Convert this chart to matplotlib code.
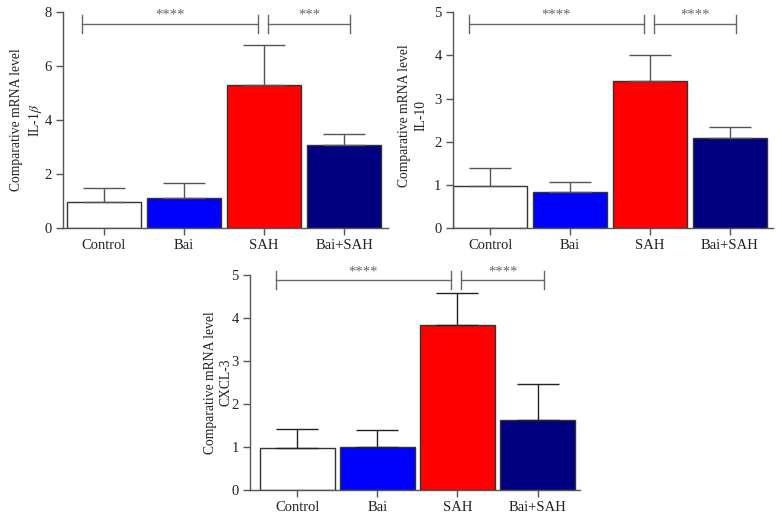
import matplotlib
matplotlib.use("Agg")
import matplotlib.pyplot as plt
import numpy as np

plt.rcParams['font.family'] = ['Liberation Serif', 'DejaVu Serif']
plt.rcParams['mathtext.fontset'] = 'stix'

categories = ["Control", "Bai", "SAH", "Bai+SAH"]
colors = ["#FFFFFF", "#0000FF", "#FF0000", "#000080"]

il1b_mean = [0.97, 1.10, 5.28, 3.07]
il1b_err = [0.50, 0.55, 1.49, 0.40]
il10_mean = [0.99, 0.83, 3.41, 2.09]
il10_err = [0.40, 0.25, 0.60, 0.25]
cxcl3_mean = [0.97, 1.01, 3.84, 1.63]
cxcl3_err = [0.44, 0.39, 0.73, 0.84]

panels = [
    dict(mean=il1b_mean, err=il1b_err, ylabel='Comparative mRNA level\nIL-1$\\beta$',
         ylim=8, yticks=[0, 2, 4, 6, 8], sig=("****", "***"), bracket_y=7.56,
         rect=[0.0806, 0.5615, 0.4156, 0.4154], xlim=(-0.51, 3.55), errc="#555555",
         labpos=(-0.111, 0.5)),
    dict(mean=il10_mean, err=il10_err, ylabel='Comparative mRNA level\nIL-10',
         ylim=5, yticks=[0, 1, 2, 3, 4, 5], sig=("****", "****"), bracket_y=4.73,
         rect=[0.5789, 0.561, 0.4096, 0.4154], xlim=(-0.47, 3.54), errc="#555555",
         labpos=(-0.124, 0.52)),
    dict(mean=cxcl3_mean, err=cxcl3_err, ylabel='Comparative mRNA level\nCXCL-3',
         ylim=5, yticks=[0, 1, 2, 3, 4, 5], sig=("****", "****"), bracket_y=4.88,
         rect=[0.3197, 0.0577, 0.422, 0.4135], xlim=(-0.59, 3.53), errc="#222222",
         labpos=(-0.0955, 0.5)),
]

fig = plt.figure(figsize=(7.82, 5.20), dpi=100)
axcol = "#555555"
for p in panels:
    ax = fig.add_axes(p['rect'])
    x = np.arange(len(categories))
    ax.bar(x, p['mean'], width=0.93, color=colors, edgecolor="#333333", linewidth=1.0, zorder=2)
    ax.errorbar(x, p['mean'], yerr=[np.zeros(4), p['err']], fmt='none',
                ecolor=p['errc'], elinewidth=1.0, capsize=15, capthick=1.0, zorder=3)
    ax.set_xlim(*p['xlim'])
    ax.set_ylim(0, p['ylim'])
    ax.set_yticks(p['yticks'])
    ax.set_xticks(x)
    ax.set_xticklabels(categories)
    for s in ['top', 'right']:
        ax.spines[s].set_visible(False)
    for s in ['left', 'bottom']:
        ax.spines[s].set_color(axcol)
        ax.spines[s].set_linewidth(1.0)
    ax.tick_params(axis='both', direction='out', length=5, width=1.0, color=axcol,
                   labelsize=10.5, labelcolor="#222222", pad=3)
    ax.set_ylabel(p['ylabel'], fontsize=9.8, color="#222222", linespacing=1.3)
    ax.yaxis.label.set_verticalalignment('center')
    ax.yaxis.set_label_coords(*p['labpos'])
    # significance brackets
    by = p['bracket_y']
    h = p['ylim'] * 0.043
    lc = "#666666"
    for (x0, x1), lab in zip([(-0.27, 1.92), (2.05, 3.08)], p['sig']):
        ax.plot([x0, x1], [by, by], color=lc, lw=1.0, clip_on=False, zorder=4)
        for xx in (x0, x1):
            ax.plot([xx, xx], [by - h, by + h], color=lc, lw=1.0, clip_on=False, zorder=4)
        ax.annotate(lab, xy=((x0 + x1) / 2, by), xytext=(0, 1.5), textcoords='offset points',
                    ha='center', va='bottom', fontsize=10.5, color="#666666",
                    annotation_clip=False)

fig.savefig("out.png", dpi=100)
